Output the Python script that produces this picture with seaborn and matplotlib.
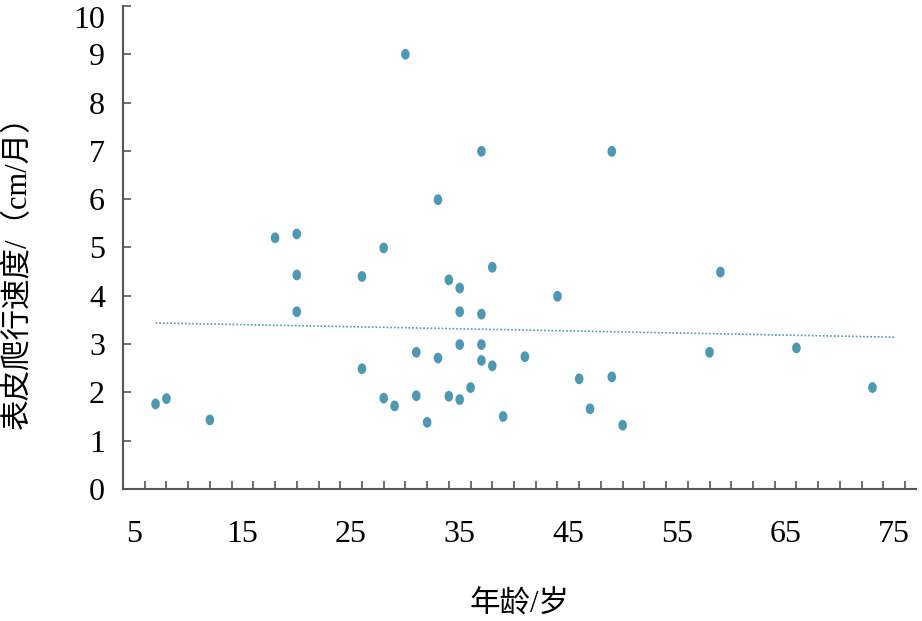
import numpy as np
import pandas as pd
import seaborn as sns
import matplotlib.pyplot as plt
from matplotlib.path import Path

# 年龄(岁)与表皮爬行速度(cm/月)
age = [7, 8, 12, 18, 20, 20, 20, 26, 26, 28, 28, 29, 30, 31, 31, 32, 33, 33,
       34, 34, 35, 35, 35, 35, 36, 37, 37, 37, 37, 38, 38, 39, 41, 44, 46,
       47, 49, 49, 50, 58, 59, 66, 73]
speed = [1.76, 1.87, 1.43, 5.20, 5.28, 4.43, 3.67, 4.40, 2.49, 4.99, 1.88,
         1.72, 9.00, 2.83, 1.93, 1.38, 5.99, 2.71, 4.33, 1.92, 4.16, 3.67,
         2.99, 1.85, 2.10, 6.99, 3.62, 2.99, 2.66, 4.59, 2.55, 1.50, 2.74,
         3.99, 2.28, 1.66, 6.99, 2.32, 1.32, 2.83, 4.49, 2.92, 2.10]

x_labels = [5, 15, 25, 35, 45, 55, 65, 75]
y_labels = list(range(0, 11))
trend_range = [7, 75]

df = pd.DataFrame({'age': age, 'speed': speed})

sns.set_style('ticks')
plt.rcParams['font.family'] = ['Liberation Serif', 'Noto Sans CJK SC']
plt.rcParams['text.color'] = 'black'
plt.rcParams['xtick.labelcolor'] = 'black'
plt.rcParams['ytick.labelcolor'] = 'black'
plt.rcParams['axes.labelcolor'] = 'black'

dot_color = '#4f98b4'
axis_color = '#555555'

# 略呈竖向椭圆的点
t = np.linspace(0, 2 * np.pi, 40)
ellipse = Path(np.column_stack([0.8 * np.cos(t), np.sin(t)]), closed=True)

fig = plt.figure(figsize=(9.22, 6.21), dpi=100)
ax = fig.add_axes([0.1334, 0.2126, 0.860, 0.7778])

sns.scatterplot(data=df, x='age', y='speed', color=dot_color, s=60,
                marker=ellipse, edgecolor='none', ax=ax)

# 趋势线(最小二乘)
k, b = np.polyfit(df['age'], df['speed'], 1)
tx = np.array(trend_range, dtype=float)
ax.plot(tx, k * tx + b, linestyle=(0, (1, 1.2)), color=dot_color, lw=1.2)

ax.set_xlim(4, 77)
ax.set_ylim(0, 10)
ax.set_xticks(x_labels)
ax.set_xticks(np.arange(4, 77, 2), minor=True)
ax.set_yticks(y_labels)
ax.tick_params(axis='x', which='major', length=0, pad=22, labelsize=23)
ax.tick_params(axis='x', which='minor', direction='in', length=6,
               width=1.2, color=axis_color)
ax.tick_params(axis='y', direction='in', length=6, width=1.2,
               color=axis_color, pad=13, labelsize=23)
ax.get_yticklabels()[-1].set_va('top')

for side in ['top', 'right']:
    ax.spines[side].set_visible(False)
for side in ['left', 'bottom']:
    ax.spines[side].set_color(axis_color)
    ax.spines[side].set_linewidth(1.5)

ax.set_xlabel('年龄/岁', fontsize=22, labelpad=30)
ax.set_ylabel('表皮爬行速度/（cm/月）', fontsize=22)
ax.yaxis.set_label_coords(-0.113, 0.464)

fig.savefig('out.png', dpi=100)
